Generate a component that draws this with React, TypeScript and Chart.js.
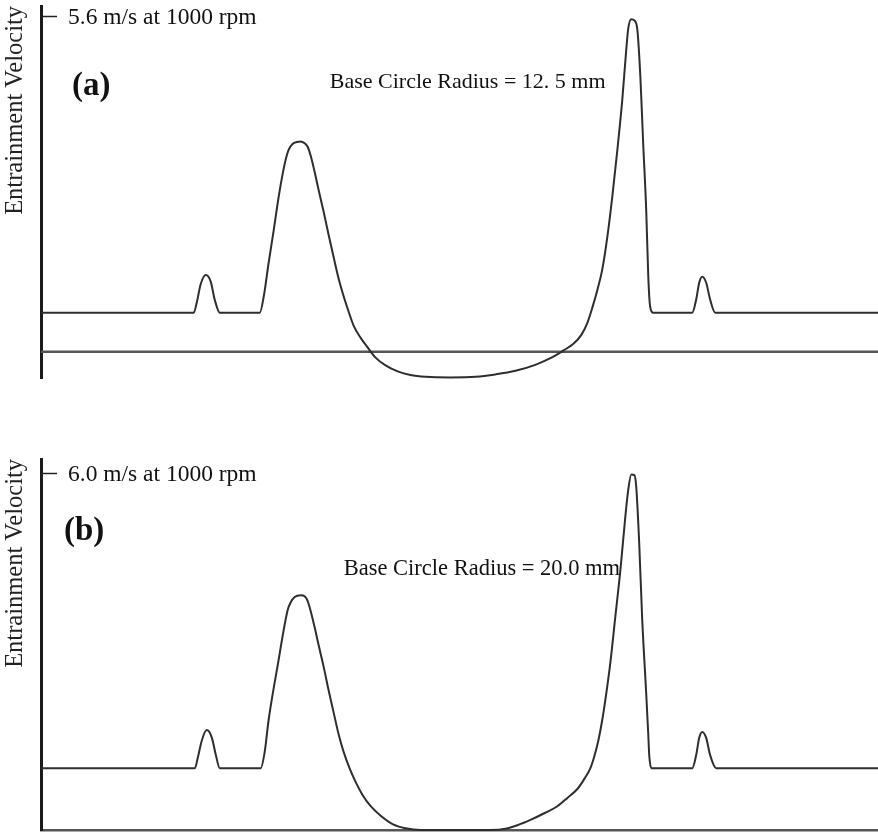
import React, { useEffect, useRef } from "react";
import { Chart, registerables } from "chart.js";

Chart.register(...registerables);

// ---------- Data: panel (a), base circle radius 12.5 mm (cam angle in deg, velocity in m/s) ----------
const anglesA = [0, 65.7, 67.0, 68.7, 70.9, 73.0, 74.7, 76.9, 94.1, 95.8, 97.9, 100.1, 102.2, 104.0, 105.2, 106.5, 108.3, 110.0, 111.7, 113.4, 114.7, 116.0, 117.7, 119.4, 121.6, 123.7, 125.9, 128.0, 130.2, 132.3, 134.5, 137.5, 140.5, 143.9, 148.2, 153.4, 158.9, 165.4, 176.1, 186.9, 195.5, 204.1, 212.6, 219.1, 224.7, 229.0, 232.4, 235.0, 237.1, 239.3, 241.4, 243.6, 245.7, 247.9, 250.0, 251.7, 252.6, 253.9, 255.2, 256.5, 257.8, 259.0, 260.3, 261.2, 262.0, 263.3, 280.1, 281.8, 283.1, 284.4, 286.1, 287.8, 290.0, 360];
const velocityA = [0.65, 0.65, 0.82, 1.13, 1.28, 1.17, 0.87, 0.65, 0.65, 0.92, 1.48, 2.03, 2.58, 2.98, 3.20, 3.37, 3.47, 3.50, 3.51, 3.48, 3.42, 3.27, 3.00, 2.70, 2.33, 1.95, 1.57, 1.22, 0.92, 0.67, 0.43, 0.23, 0.07, -0.10, -0.23, -0.33, -0.39, -0.42, -0.43, -0.42, -0.38, -0.32, -0.22, -0.11, 0.02, 0.13, 0.28, 0.48, 0.73, 1.03, 1.37, 1.92, 2.58, 3.37, 4.20, 5.03, 5.40, 5.55, 5.53, 5.37, 4.58, 3.48, 2.37, 1.25, 0.75, 0.65, 0.65, 0.87, 1.15, 1.25, 1.15, 0.87, 0.65, 0.65];

// ---------- Data: panel (b), base circle radius 20.0 mm ----------
const anglesB = [0, 66.2, 67.4, 69.2, 71.3, 73.5, 75.2, 76.9, 94.5, 96.2, 97.9, 100.1, 102.2, 104.0, 106.1, 107.4, 109.1, 111.7, 113.4, 114.7, 116.0, 117.7, 119.4, 121.6, 123.7, 125.9, 128.0, 130.2, 132.7, 135.3, 138.3, 141.8, 146.1, 151.2, 156.8, 163.2, 176.1, 193.3, 199.8, 204.9, 210.5, 216.9, 222.1, 226.4, 230.7, 233.7, 236.3, 238.0, 239.7, 241.4, 243.1, 244.9, 247.0, 249.2, 251.3, 252.6, 253.9, 255.2, 256.0, 257.3, 258.6, 260.3, 261.2, 261.6, 262.5, 280.1, 281.8, 283.1, 284.4, 286.1, 287.8, 290.4, 360];
const velocityB = [1.04, 1.04, 1.21, 1.51, 1.68, 1.55, 1.26, 1.04, 1.04, 1.31, 1.85, 2.39, 2.86, 3.28, 3.70, 3.83, 3.92, 3.95, 3.93, 3.85, 3.68, 3.41, 3.11, 2.74, 2.35, 1.97, 1.61, 1.31, 1.04, 0.81, 0.59, 0.40, 0.24, 0.10, 0.03, 0.00, 0.00, 0.00, 0.02, 0.08, 0.17, 0.29, 0.40, 0.54, 0.69, 0.86, 1.04, 1.24, 1.50, 1.85, 2.29, 2.82, 3.58, 4.37, 5.26, 5.73, 5.98, 5.97, 5.78, 4.82, 3.53, 2.30, 1.60, 1.26, 1.04, 1.04, 1.26, 1.55, 1.65, 1.55, 1.26, 1.04, 1.04];

// ---------- Axis ranges and labels ----------
const angleRange = [0, 360];
const velocityRangeA = [-0.44, 5.77];
const velocityRangeB = [0, 6.24];
const zeroLineA = [0, 0];
const tickValueA = 5.6;
const tickValueB = 6.0;
const tickLabelA = "5.6 m/s at 1000 rpm";
const tickLabelB = "6.0 m/s at 1000 rpm";
const yTitle = "Entrainment Velocity";
const panelLabelA = "(a)";
const panelLabelB = "(b)";
const noteA = "Base Circle Radius = 12. 5 mm";
const noteB = "Base Circle Radius = 20.0 mm";

const SERIF = "'Liberation Serif', 'Times New Roman', serif";

const decorPlugin = {
  id: "decor",
  afterDraw(chart: any, _args: any, opts: any) {
    const { ctx, chartArea } = chart;
    const xs = chart.scales.x;
    const ys = chart.scales.y;
    ctx.save();
    const ty = Math.round(ys.getPixelForValue(opts.tickValue)) + 0.5;
    ctx.strokeStyle = "#222";
    ctx.lineWidth = 1.5;
    ctx.beginPath();
    ctx.moveTo(chartArea.left, ty);
    ctx.lineTo(chartArea.left + 16, ty);
    ctx.stroke();
    ctx.fillStyle = "#111";
    ctx.textAlign = "left";
    ctx.textBaseline = "middle";
    ctx.font = `23.5px ${SERIF}`;
    ctx.fillText(opts.tickLabel, chartArea.left + 27, ty + 1);
    ctx.textBaseline = "alphabetic";
    ctx.font = `bold 33px ${SERIF}`;
    ctx.fillText(opts.panelLabel, xs.getPixelForValue(opts.panelAt[0]), ys.getPixelForValue(opts.panelAt[1]));
    ctx.font = `${opts.noteSize}px ${SERIF}`;
    ctx.fillText(opts.note, xs.getPixelForValue(opts.noteAt[0]), ys.getPixelForValue(opts.noteAt[1]));
    ctx.restore();
  },
};

type PanelProps = {
  angles: number[];
  velocities: number[];
  yRange: number[];
  showZeroLine: boolean;
  showBottomAxis: boolean;
  tickValue: number;
  tickLabel: string;
  panelLabel: string;
  panelAt: number[];
  note: string;
  noteAt: number[];
  noteSize: number;
  top: number;
  height: number;
  padTop: number;
  padBottom: number;
};

function Panel(p: PanelProps) {
  const ref = useRef<HTMLCanvasElement | null>(null);
  useEffect(() => {
    if (!ref.current) return;
    const curve = p.angles.map((a, i) => ({ x: a, y: p.velocities[i] }));
    const datasets: any[] = [
      {
        data: curve,
        borderColor: "#2e2e2e",
        borderWidth: 2,
        pointRadius: 0,
        fill: false,
        cubicInterpolationMode: "monotone",
        clip: 4,
      },
    ];
    if (p.showZeroLine) {
      datasets.push({
        data: angleRange.map((a, i) => ({ x: a, y: zeroLineA[i] })),
        borderColor: "#555",
        borderWidth: 2.5,
        pointRadius: 0,
        fill: false,
      });
    }
    const chart = new Chart(ref.current, {
      type: "line",
      data: { datasets },
      plugins: [decorPlugin],
      options: {
        animation: false,
        responsive: false,
        maintainAspectRatio: false,
        layout: { padding: { top: p.padTop, bottom: p.padBottom, left: 0, right: 0 } },
        plugins: {
          legend: { display: false },
          tooltip: { enabled: false },
          decor: {
            tickValue: p.tickValue,
            tickLabel: p.tickLabel,
            panelLabel: p.panelLabel,
            panelAt: p.panelAt,
            note: p.note,
            noteAt: p.noteAt,
            noteSize: p.noteSize,
          },
        } as any,
        scales: {
          x: {
            type: "linear",
            min: angleRange[0],
            max: angleRange[1],
            display: p.showBottomAxis,
            ticks: { display: false },
            grid: { display: false, drawTicks: false },
            border: { display: true, color: "#555", width: 2.5 },
            afterFit: (s: any) => {
              s.height = 0;
            },
          },
          y: {
            type: "linear",
            min: p.yRange[0],
            max: p.yRange[1],
            ticks: { display: false },
            grid: { display: false, drawTicks: false },
            border: { display: true, color: "#1a1a1a", width: 3 },
            title: {
              display: true,
              text: yTitle,
              align: "end",
              color: "#222",
              font: { family: SERIF, size: 24.5, weight: "normal" },
              padding: { top: 1, bottom: 0 },
            },
            afterFit: (s: any) => {
              s.width = 41;
            },
          },
        },
      } as any,
    });
    return () => chart.destroy();
  }, []);
  return (
    <canvas
      ref={ref}
      width={878}
      height={p.height}
      style={{ position: "absolute", left: 0, top: p.top, width: 878, height: p.height }}
    />
  );
}

export default function App() {
  return (
    <div style={{ position: "absolute", left: 0, top: 0, width: 878, height: 833, background: "#fff" }}>
      <Panel
        angles={anglesA}
        velocities={velocityA}
        yRange={velocityRangeA}
        showZeroLine={true}
        showBottomAxis={false}
        tickValue={tickValueA}
        tickLabel={tickLabelA}
        panelLabel={panelLabelA}
        panelAt={[13.3, 4.28]}
        note={noteA}
        noteAt={[124.2, 4.40]}
        noteSize={22}
        top={0}
        height={384}
        padTop={6}
        padBottom={6}
      />
      <Panel
        angles={anglesB}
        velocities={velocityB}
        yRange={velocityRangeB}
        showZeroLine={false}
        showBottomAxis={true}
        tickValue={tickValueB}
        tickLabel={tickLabelB}
        panelLabel={panelLabelB}
        panelAt={[9.9, 4.87]}
        note={noteB}
        noteAt={[130.2, 4.29]}
        noteSize={22.5}
        top={450}
        height={383}
        padTop={9}
        padBottom={3}
      />
    </div>
  );
}
